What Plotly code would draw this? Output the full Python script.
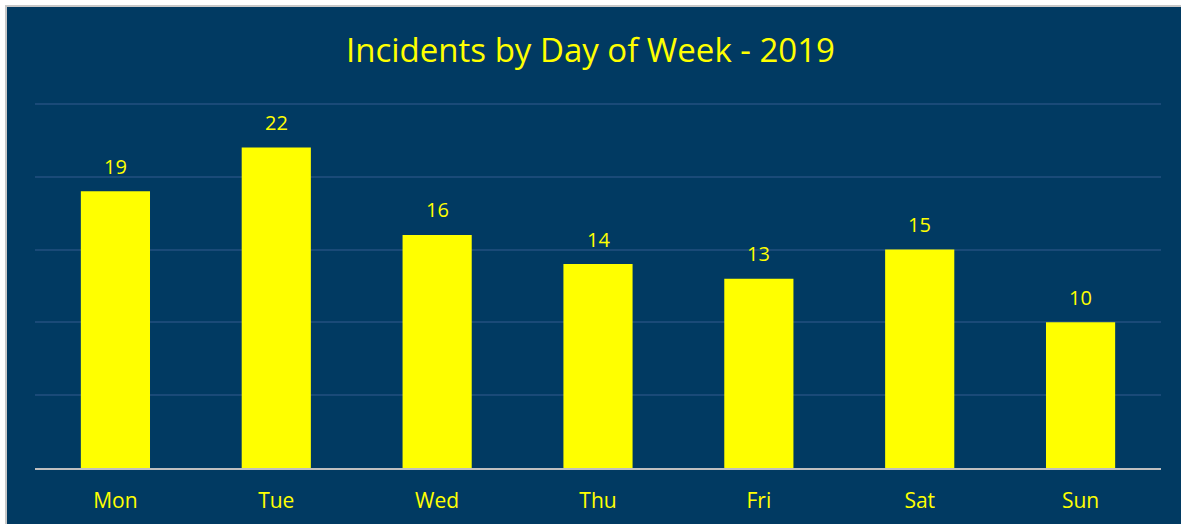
import plotly.graph_objects as go

days = ["Mon", "Tue", "Wed", "Thu", "Fri", "Sat", "Sun"]
incidents = [19, 22, 16, 14, 13, 15, 10]
title_text = "Incidents by Day of Week - 2019"

BG = "#013A62"
YEL = "#FFFF00"
FONT = "Open Sans"

W, H = 1181, 524
ML, MR, MT, MB = 35, 20, 101, 56
PW, PH = W - ML - MR, H - MT - MB

def px_x(p):
    return (p - ML) / PW

def px_y(p):
    return (H - MB - p) / PH

fig = go.Figure(go.Bar(
    x=days, y=incidents,
    marker=dict(color=YEL, line=dict(width=0)),
    hoverinfo="x+y",
))

for d, v in zip(days, incidents):
    fig.add_annotation(x=d, y=v, text=str(v), showarrow=False,
                       yanchor="middle", yshift=25,
                       font=dict(color=YEL, size=20, family=FONT))

fig.update_layout(
    width=W, height=H,
    margin=dict(l=ML, r=MR, t=MT, b=MB, pad=0, autoexpand=False),
    paper_bgcolor="white",
    plot_bgcolor="rgba(0,0,0,0)",
    bargap=0.57,
    showlegend=False,
    title=dict(text=title_text, x=0.5, xanchor="center", y=1 - 50 / H, yanchor="middle",
               font=dict(color=YEL, size=33, family=FONT)),
    xaxis=dict(showgrid=False, showline=True, linecolor="#BFBFBF", linewidth=2,
               ticks="outside", ticklen=13, tickcolor="rgba(0,0,0,0)", automargin=False,
               tickfont=dict(color=YEL, size=21, family=FONT), fixedrange=True),
    yaxis=dict(range=[0, 25.2], tickvals=[5, 10, 15, 20, 25], showticklabels=False, showline=False,
               gridcolor="#1A4A78", gridwidth=1.5, zeroline=False, fixedrange=True,
               automargin=False),
    shapes=[
        dict(type="rect", xref="paper", yref="paper", layer="below",
             x0=px_x(6), x1=px_x(W + 5), y0=px_y(H + 5), y1=px_y(6),
             fillcolor=BG, line=dict(color="#C8C8C8", width=2)),
    ],
)

fig.write_html("out.html", config={"displayModeBar": False},
               post_script="document.body.style.margin='0';document.body.style.overflow='hidden';")
